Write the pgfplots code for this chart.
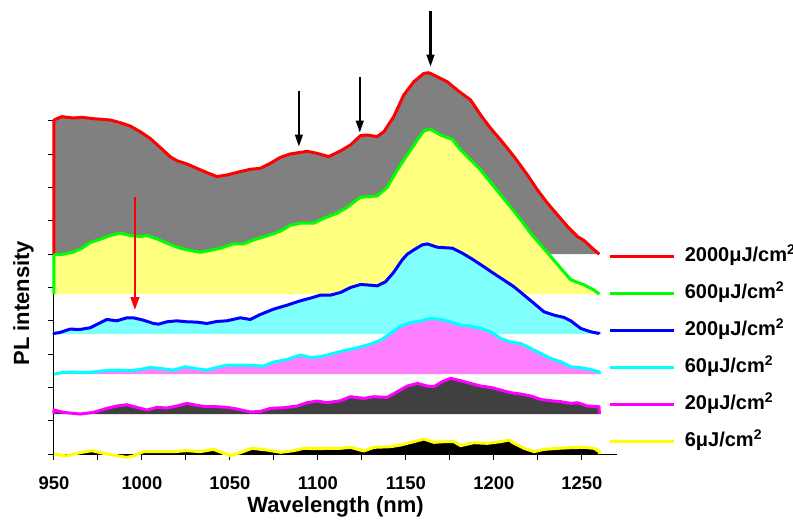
\documentclass[border=0pt]{standalone}
\usepackage{fontspec}
\setmainfont{Liberation Sans}
\usepackage{pgfplots}
\pgfplotsset{compat=1.18}
\usetikzlibrary{arrows.meta}

% fill colours under each spectrum
\definecolor{fgray}{RGB}{128,128,128}
\definecolor{fyellow}{RGB}{255,255,128}
\definecolor{fcyan}{RGB}{128,255,255}
\definecolor{fmagenta}{RGB}{255,128,255}
\definecolor{fdark}{RGB}{64,64,64}
% line colours
\definecolor{lred}{RGB}{255,0,0}
\definecolor{lgreen}{RGB}{0,255,0}
\definecolor{lblue}{RGB}{0,0,255}
\definecolor{lcyan}{RGB}{0,255,255}
\definecolor{lmagenta}{RGB}{255,0,255}
\definecolor{lyellow}{RGB}{255,255,0}

\begin{document}
\begin{tikzpicture}
\begin{axis}[
  scale only axis, width=281.5pt, height=166.5pt,
  xmin=950, xmax=1270, ymin=0, ymax=10,
  axis x line=bottom, axis y line=left,
  axis line style={-, line width=0.5pt},
  clip=false,
  xtick={950,1000,...,1250},
  xticklabels={950,1000,1050,1100,1150,1200,1250},
  minor xtick={975,1025,1075,1125,1175,1225},
  ytick={0,1,...,10}, yticklabels={},
  tick align=outside, major tick length=2.8pt, minor tick length=2.8pt,
  tick style={black, line width=0.5pt},
  xticklabel style={font=\fontsize{9.2}{11}\selectfont\bfseries, yshift=-5pt},
  /pgf/number format/assume math mode=true,
  xlabel={Wavelength (nm)}, ylabel={PL intensity},
  label style={font=\fontsize{11}{13}\selectfont\bfseries},
  xlabel style={at={(axis description cs:0.5,-0.158)}, anchor=center},
  ylabel style={at={(axis description cs:-0.0545,0.4525)}, anchor=center},
  legend style={at={(axis cs:1265,6.22)}, anchor=north west, draw=none, fill=none,
    inner sep=0pt, outer sep=0pt, row sep=8.45pt, column sep=4.5pt,
    font=\fontsize{10}{12}\selectfont\bfseries,
    nodes={inner sep=0pt, text height=7.5pt, text depth=2.5pt}},
  legend cell align=left,
  legend image code/.code={\draw[#1, line width=1.6pt] (0pt,0pt) -- (32.2pt,0pt);},
  every axis plot/.append style={line width=1.5pt, line join=round},
]
\coordinate (O) at (axis cs:950,0);

% 2000 uJ/cm^2, offset 6.0
\addplot[draw=lred, fill=fgray] coordinates {
(950,6.0) (950,10.03) (954.4,10.13) (961.0,10.09) (965.8,10.11) (972.4,10.07)
(981.9,10.03) (987.6,9.95) (993.3,9.85) (999.0,9.68) (1004.6,9.48) (1010.3,9.21)
(1016.0,8.93) (1019.8,8.81) (1025.5,8.71) (1031.2,8.58) (1036.9,8.45) (1042.6,8.33)
(1048.3,8.38) (1055.9,8.48) (1061.6,8.55) (1067.3,8.58) (1073.0,8.73) (1078.7,8.91)
(1084.3,9.01) (1093.8,9.09) (1099.5,9.03) (1106.1,8.93) (1112.8,9.10) (1118.5,9.28)
(1124.2,9.56) (1128.0,9.58) (1133.7,9.53) (1137.5,9.68) (1143.1,10.13) (1148.8,10.78)
(1154.5,11.18) (1160.2,11.43) (1163.1,11.45) (1167.8,11.33) (1173.5,11.18) (1179.2,10.93)
(1186.8,10.63) (1192.5,10.18) (1198.2,9.78) (1203.9,9.43) (1211.5,8.93) (1219.1,8.38)
(1224.8,7.93) (1230.5,7.53) (1236.2,7.18) (1241.9,6.83) (1247.5,6.53) (1251.3,6.41)
(1257.0,6.13) (1260,6.0)};
\addlegendentry{2000μJ/cm\textsuperscript{2}}

% 600 uJ/cm^2, offset 4.8
\addplot[draw=lgreen, fill=fyellow] coordinates {
(950,4.8) (950,5.98) (955.3,6.0) (961.0,6.06) (965.8,6.18) (970.5,6.35) (975.2,6.43)
(981.9,6.56) (987.6,6.63) (993.3,6.56) (999.0,6.53) (1002.8,6.56) (1008.5,6.46)
(1014.2,6.33) (1021.7,6.18) (1027.4,6.11) (1033.1,6.06) (1038.8,6.11) (1044.5,6.18)
(1052.1,6.31) (1057.8,6.31) (1063.5,6.43) (1071.1,6.55) (1078.7,6.69) (1084.3,6.87)
(1090.0,6.93) (1097.6,6.93) (1103.3,7.08) (1110.9,7.23) (1116.6,7.41) (1124.2,7.71)
(1133.7,7.75) (1139.4,8.01) (1145.1,8.53) (1150.8,8.98) (1156.5,9.43) (1160.2,9.70)
(1164.0,9.75) (1169.7,9.58) (1176.4,9.45) (1181.1,9.13) (1186.8,8.83) (1192.5,8.53)
(1198.2,8.15) (1203.9,7.78) (1209.6,7.41) (1215.3,7.03) (1220.9,6.63) (1226.6,6.28)
(1232.3,5.93) (1238.0,5.58) (1243.7,5.23) (1251.3,5.08) (1257.0,4.92) (1260,4.8)};
\addlegendentry{600μJ/cm\textsuperscript{2}}

% 200 uJ/cm^2, offset 3.6
\addplot[draw=lblue, fill=fcyan] coordinates {
(950,3.6) (950,3.62) (953.4,3.65) (959.1,3.75) (964.8,3.74) (970.5,3.79) (976.2,3.94)
(980.0,4.04) (985.7,4.0) (991.4,4.09) (995.1,4.09) (1000.8,4.02) (1006.5,3.92)
(1009.4,3.90) (1014.2,3.97) (1019.8,4.0) (1025.5,3.97) (1031.2,3.96) (1036.9,3.92)
(1042.6,3.98) (1048.3,4.0) (1055.9,4.09) (1061.6,4.04) (1067.3,4.19) (1074.8,4.35)
(1082.5,4.47) (1090.0,4.60) (1095.7,4.68) (1101.4,4.77) (1107.1,4.77) (1112.8,4.85)
(1118.5,5.0) (1124.2,5.09) (1129.9,5.07) (1133.7,5.05) (1138.4,5.17) (1143.0,5.45)
(1147.9,5.83) (1150.8,6.0) (1154.5,6.13) (1159.3,6.28) (1162.2,6.31) (1167.8,6.21)
(1176.4,6.18) (1182.1,6.03) (1187.8,5.85) (1195.0,5.6) (1200.0,5.42) (1205.8,5.22)
(1211.5,5.02) (1217.2,4.77) (1222.9,4.52) (1228.5,4.27) (1234.2,4.17) (1239.9,4.10)
(1243.7,4.0) (1249.4,3.77) (1255.1,3.67) (1259.8,3.62) (1260,3.6)};
\addlegendentry{200μJ/cm\textsuperscript{2}}

% 60 uJ/cm^2, offset 2.4
\addplot[draw=lcyan, fill=fmagenta] coordinates {
(950,2.4) (955.3,2.45) (961.0,2.46) (968.6,2.44) (976.2,2.49) (985.7,2.52) (993.3,2.50)
(999.0,2.54) (1004.6,2.60) (1010.3,2.57) (1017.9,2.52) (1024.6,2.62) (1031.2,2.56)
(1036.9,2.52) (1042.6,2.60) (1048.3,2.67) (1055.9,2.67) (1063.5,2.66) (1069.1,2.64)
(1074.8,2.76) (1082.5,2.84) (1090.0,2.97) (1095.7,2.90) (1101.4,2.92) (1107.1,3.0)
(1114.7,3.10) (1122.3,3.19) (1129.9,3.30) (1135.6,3.42) (1141.3,3.62) (1147.0,3.84)
(1152.7,3.95) (1158.3,3.99) (1164.0,4.07) (1169.7,4.04) (1175.4,3.97) (1181.1,3.87)
(1186.8,3.84) (1192.5,3.77) (1198.2,3.67) (1203.9,3.47) (1209.6,3.36) (1215.3,3.32)
(1221.0,3.17) (1226.6,3.02) (1232.3,2.87) (1238.0,2.77) (1243.7,2.62) (1249.4,2.59)
(1255.1,2.54) (1259.8,2.47) (1260,2.4)};
\addlegendentry{60μJ/cm\textsuperscript{2}}

% 20 uJ/cm^2, offset 1.2
\addplot[draw=lmagenta, fill=fdark] coordinates {
(950,1.2) (950,1.32) (955.3,1.25) (964.8,1.20) (972.4,1.25) (980.0,1.37) (985.7,1.44)
(991.4,1.48) (997.1,1.40) (1002.8,1.32) (1008.5,1.40) (1014.2,1.38) (1019.8,1.44)
(1025.5,1.52) (1031.2,1.46) (1036.9,1.42) (1042.6,1.42) (1048.3,1.40) (1054.0,1.35)
(1061.6,1.26) (1067.3,1.28) (1073.0,1.37) (1080.5,1.39) (1088.2,1.44) (1093.8,1.54)
(1099.5,1.59) (1105.2,1.54) (1112.8,1.60) (1118.5,1.72) (1126.1,1.67) (1131.8,1.72)
(1139.4,1.70) (1145.1,1.87) (1150.8,2.04) (1156.5,2.12) (1162.2,2.04) (1165.9,2.02)
(1170.7,2.17) (1175.4,2.27) (1181.1,2.20) (1186.8,2.12) (1192.5,2.04) (1198.2,2.0)
(1203.9,1.92) (1209.6,1.84) (1215.3,1.80) (1221.0,1.74) (1226.6,1.64) (1232.3,1.60)
(1238.0,1.57) (1243.7,1.52) (1247.5,1.54) (1253.2,1.44) (1259.8,1.42) (1260,1.2)};
\addlegendentry{20μJ/cm\textsuperscript{2}}

% 6 uJ/cm^2, no offset
\addplot[draw=lyellow, fill=black] coordinates {
(950,0) (957.2,-0.06) (964.8,0.04) (971.4,0.10) (978.1,0.02) (985.7,-0.05) (991.4,-0.10)
(995.1,-0.06) (1000.8,0.07) (1008.5,0.07) (1017.9,0.07) (1025.5,0.10) (1033.1,0.07)
(1040.7,0.14) (1046.4,0.02) (1050.2,-0.05) (1055.9,0.04) (1062.5,0.17) (1071.1,0.12)
(1078.7,0.05) (1086.2,0.10) (1091.9,0.17) (1099.5,0.16) (1107.1,0.17) (1112.8,0.17)
(1118.5,0.20) (1126.1,0.09) (1131.8,0.20) (1141.3,0.22) (1147.0,0.27) (1154.5,0.37)
(1160.2,0.45) (1165.9,0.35) (1171.6,0.37) (1177.3,0.37) (1181.1,0.25) (1188.7,0.34)
(1196.3,0.32) (1203.9,0.37) (1208.6,0.42) (1211.5,0.32) (1217.2,0.17) (1222.9,0.07)
(1228.5,0.14) (1236.2,0.17) (1243.7,0.19) (1251.3,0.20) (1257.0,0.17) (1260,0.07)
(1260,0)};
\addlegendentry{6μJ/cm\textsuperscript{2}}

% peak markers
\draw[line width=1.1pt, -{Triangle[length=6pt,width=3.8pt]}]
  (axis cs:1089.2,10.91) -- (axis cs:1089.2,9.23);
\draw[line width=1.1pt, -{Triangle[length=6pt,width=3.8pt]}]
  (axis cs:1123.8,11.33) -- (axis cs:1123.8,9.65);
\draw[line width=1.1pt, -{Triangle[length=6pt,width=3.8pt]}]
  (axis cs:1164.0,13.31) -- (axis cs:1164.0,11.63);
\draw[lred, line width=1.3pt, -{Triangle[length=6.5pt,width=4.2pt]}]
  (axis cs:996,7.71) -- (axis cs:996,4.32);
\end{axis}
\pgfresetboundingbox
\path (O) ++(-27pt,227pt) rectangle ++(396.5pt,-262.5pt);
\end{tikzpicture}
\end{document}
